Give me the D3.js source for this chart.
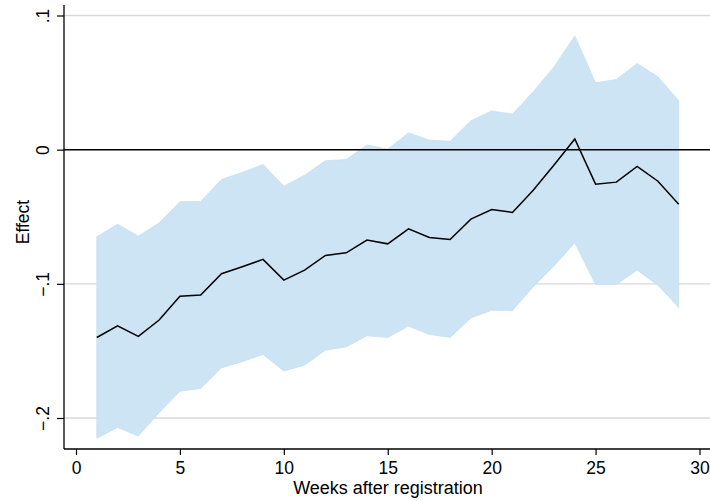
<!DOCTYPE html>
<html>
<head>
<meta charset="utf-8">
<script src="https://cdn.jsdelivr.net/npm/d3@7"></script>
<style>
  html, body { margin: 0; padding: 0; background: #fff; }
  svg { display: block; }
  text { font-family: "Liberation Sans", Arial, Helvetica, sans-serif; fill: #000; }
</style>
</head>
<body>
<svg id="chart" width="710" height="501"></svg>
<script>
const weeks = [1,2,3,4,5,6,7,8,9,10,11,12,13,14,15,16,17,18,19,20,21,22,23,24,25,26,27,28,29];
const effect = [-0.140,-0.1313,-0.1392,-0.1270,-0.1092,-0.1084,-0.0925,-0.0873,-0.0818,-0.0972,
  -0.0898,-0.0788,-0.0769,-0.0674,-0.0702,-0.0590,-0.0654,-0.0669,-0.0518,-0.0446,
  -0.0468,-0.0302,-0.0115,0.0080,-0.0257,-0.0242,-0.0125,-0.0235,-0.0406];
const upper = [-0.065,-0.0555,-0.0645,-0.0545,-0.0389,-0.0386,-0.0222,-0.0170,-0.0110,-0.0272,
  -0.0190,-0.0083,-0.0073,0.0034,0.0004,0.0125,0.0071,0.0063,0.0215,0.0289,
  0.0265,0.0431,0.0617,0.0848,0.0498,0.0523,0.0642,0.0543,0.0364];
const lower = [-0.2152,-0.207,-0.2135,-0.196,-0.180,-0.178,-0.1626,-0.158,-0.1526,-0.165,
  -0.1606,-0.1494,-0.147,-0.1387,-0.140,-0.1315,-0.1377,-0.140,-0.1255,-0.1196,
  -0.120,-0.1022,-0.0866,-0.0694,-0.1005,-0.1005,-0.0898,-0.101,-0.1176];
const xTicks = [0,5,10,15,20,25,30];
const yTicks = [-0.2,-0.1,0,0.1];
const yTickLabels = ["\u2212.2","\u2212.1","0",".1"];
const xTitle = "Weeks after registration";
const yTitle = "Effect";

(function () {
const svg = d3.select("#chart");
const pL = 64, pR = 710, pT = 5, pB = 449;
const x = d3.scaleLinear().domain([0,30]).range([76, 699.5]);
const y = d3.scaleLinear().domain([-0.2, 0.1]).range([418, 15.5]);

const data = weeks.map((w,i) => ({w, e: effect[i], u: upper[i], l: lower[i]}));

// gridlines
svg.append("g").selectAll("line").data(yTicks.filter(v => v !== 0)).join("line")
  .attr("x1", pL).attr("x2", pR)
  .attr("y1", d => y(d)).attr("y2", d => y(d))
  .attr("stroke", "#d9d9d9").attr("stroke-width", 1.3);

// confidence band
svg.append("path").datum(data)
  .attr("d", d3.area().x(d => x(d.w)).y0(d => y(d.l)).y1(d => y(d.u)))
  .attr("fill", "#cce4f4").attr("stroke", "#c6e0f2").attr("stroke-width", 0.8);

// zero line
svg.append("line")
  .attr("x1", pL).attr("x2", pR).attr("y1", y(0)).attr("y2", y(0))
  .attr("stroke", "#000").attr("stroke-width", 1.5);

// effect line
svg.append("path").datum(data)
  .attr("d", d3.line().x(d => x(d.w)).y(d => y(d.e)))
  .attr("fill", "none").attr("stroke", "#000").attr("stroke-width", 1.5)
  .attr("stroke-linejoin", "miter");

// x axis
const xAxis = d3.axisBottom(x).tickValues(xTicks).tickSize(6).tickPadding(6.5).tickFormat(d3.format("d"));
const gx = svg.append("g").attr("transform", `translate(0,${pB})`).call(xAxis);
gx.select(".domain").remove();
gx.selectAll(".tick line").attr("stroke", "#000").attr("stroke-width", 1.2);
gx.selectAll(".tick text").style("font-size", "17.5px").style("font-family", '"Liberation Sans", Arial, sans-serif').attr("fill", "#000");

// y axis
const yAxis = d3.axisLeft(y).tickValues(yTicks).tickSize(7).tickFormat((d,i) => yTickLabels[i]);
const gy = svg.append("g").attr("transform", `translate(${pL},0)`).call(yAxis);
gy.select(".domain").remove();
gy.selectAll(".tick line").attr("stroke", "#000").attr("stroke-width", 1.2);
gy.selectAll(".tick text")
  .attr("x", null).attr("dy", null)
  .attr("text-anchor", "middle")
  .attr("transform", "translate(-15.5,0) rotate(-90)")
  .style("font-size", "17.5px").style("font-family", '"Liberation Sans", Arial, sans-serif').attr("fill", "#000");

// axis lines
svg.append("line").attr("x1", pL).attr("x2", pL).attr("y1", pT).attr("y2", pB)
  .attr("stroke", "#000").attr("stroke-width", 1.3);
svg.append("line").attr("x1", pL).attr("x2", pR).attr("y1", pB).attr("y2", pB)
  .attr("stroke", "#000").attr("stroke-width", 1.3);

// titles
svg.append("text").attr("x", (pL+pR)/2 + 1).attr("y", 494)
  .attr("text-anchor", "middle").style("font-size", "18px").text(xTitle);
svg.append("text").attr("transform", `translate(28.5,${(pT+pB)/2 - 5}) rotate(-90)`)
  .attr("text-anchor", "middle").style("font-size", "17.5px").text(yTitle);
})();
</script>
</body>
</html>
